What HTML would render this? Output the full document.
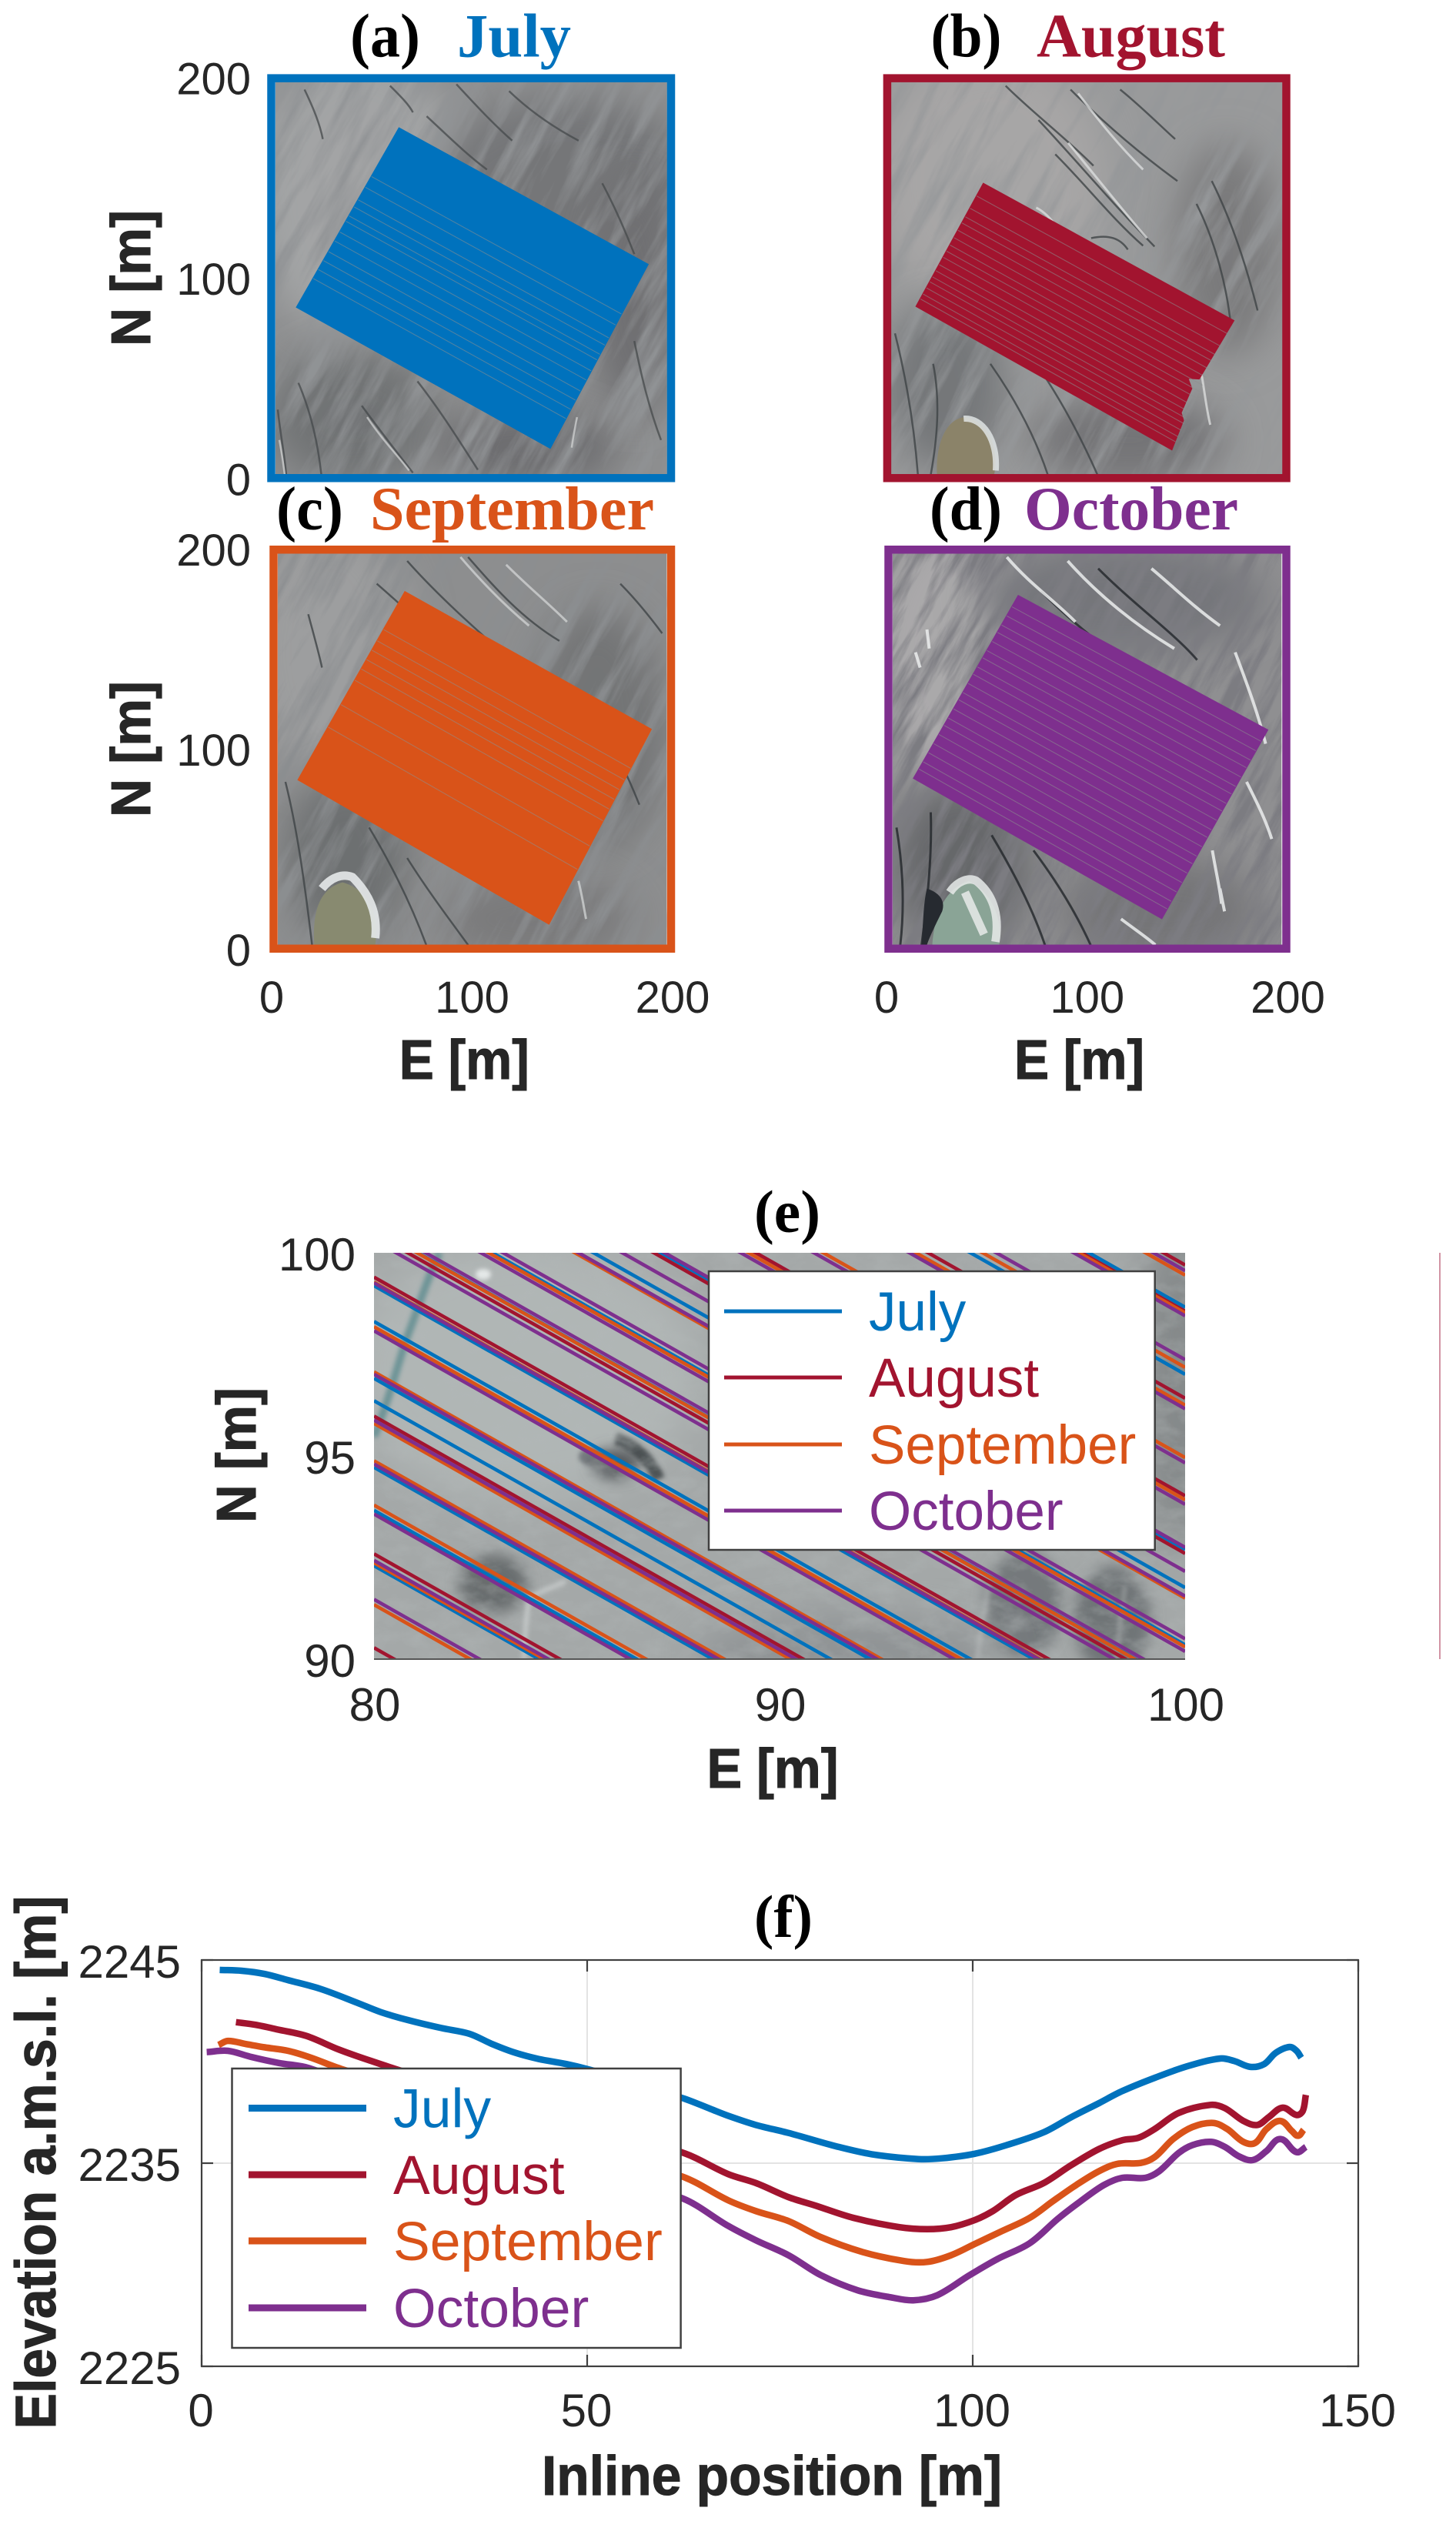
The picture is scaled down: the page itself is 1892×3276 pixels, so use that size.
<!DOCTYPE html>
<html lang="en">
<head>
<meta charset="utf-8">
<title>Survey tracks and elevation profiles</title>
<style>
html,body{margin:0;padding:0;background:#fff;}
svg{display:block;}
text{font-family:"Liberation Sans",Arial,sans-serif;fill:#262626;}
.ttl{font-family:"Liberation Serif","Times New Roman",serif;font-weight:700;}
.heavy{stroke:#262626;stroke-width:1.1px;}
</style>
</head>
<body>
<svg id="fig" xmlns="http://www.w3.org/2000/svg" width="1892" height="3276" viewBox="0 0 1892 3276">
<defs>
<filter id="grainA" x="0" y="0" width="100%" height="100%"><feTurbulence type="fractalNoise" baseFrequency="0.006 0.05" numOctaves="5" seed="3"/><feColorMatrix values="0 0 0 0 .28 0 0 0 0 .29 0 0 0 0 .30 2.4 0 0 0 -0.95"/></filter>
<filter id="grainB" x="0" y="0" width="100%" height="100%"><feTurbulence type="fractalNoise" baseFrequency="0.006 0.05" numOctaves="5" seed="11"/><feColorMatrix values="0 0 0 0 .30 0 0 0 0 .31 0 0 0 0 .32 2.2 0 0 0 -0.95"/></filter>
<filter id="grainC" x="0" y="0" width="100%" height="100%"><feTurbulence type="fractalNoise" baseFrequency="0.006 0.05" numOctaves="5" seed="23"/><feColorMatrix values="0 0 0 0 .26 0 0 0 0 .27 0 0 0 0 .28 2.6 0 0 0 -1.0"/></filter>
<filter id="grainD" x="0" y="0" width="100%" height="100%"><feTurbulence type="fractalNoise" baseFrequency="0.008 0.06" numOctaves="5" seed="31"/><feColorMatrix values="0 0 0 0 .20 0 0 0 0 .20 0 0 0 0 .22 3 0 0 0 -1.15"/></filter>
<filter id="grainE" x="0" y="0" width="100%" height="100%"><feTurbulence type="fractalNoise" baseFrequency="0.03 0.05" numOctaves="4" seed="7"/><feColorMatrix values="0 0 0 0 .45 0 0 0 0 .48 0 0 0 0 .48 2 0 0 0 -0.8"/></filter>
<filter id="soft" x="-50%" y="-50%" width="200%" height="200%"><feGaussianBlur stdDeviation="26"/></filter>
<filter id="soft2" x="-50%" y="-50%" width="200%" height="200%"><feGaussianBlur stdDeviation="9"/></filter>
<filter id="soft3" x="-50%" y="-50%" width="200%" height="200%"><feGaussianBlur stdDeviation="3"/></filter>
<clipPath id="clipA"><rect x="0" y="0" width="513" height="515"/></clipPath>
<clipPath id="clipB"><rect x="0" y="0" width="513" height="515"/></clipPath>
<clipPath id="clipC"><rect x="0" y="0" width="511" height="514"/></clipPath>
<clipPath id="clipD"><rect x="0" y="0" width="511" height="514"/></clipPath>
<clipPath id="clipE"><rect x="486" y="1628" width="1054" height="528"/></clipPath>
</defs>

<!-- panel (a) photo -->
<g transform="translate(358,106.5) scale(.992,.99)" clip-path="url(#clipA)">
<rect width="513" height="515" fill="#8e8f90"/>
<ellipse cx="110" cy="150" rx="140" ry="190" fill="#a3a4a5" filter="url(#soft)"/>
<ellipse cx="380" cy="130" rx="170" ry="110" fill="#757678" filter="url(#soft)"/>
<ellipse cx="470" cy="280" rx="60" ry="160" fill="#6f7072" filter="url(#soft)"/>
<ellipse cx="100" cy="440" rx="110" ry="90" fill="#717375" filter="url(#soft)"/>
<ellipse cx="330" cy="480" rx="120" ry="50" fill="#6c6c6e" filter="url(#soft)"/>
<g transform="rotate(-62 256 256)"><rect x="-260" y="-260" width="1030" height="1030" filter="url(#grainA)"/></g>
<g fill="none" stroke="#45494b" stroke-width="2.5" opacity=".75">
<path d="M198,45 C225,70 250,95 277,115"/><path d="M237,3 C262,30 285,55 310,77"/><path d="M306,12 C335,40 365,60 397,77"/><path d="M428,133 C445,165 458,195 470,226"/><path d="M113,425 C135,455 158,485 180,513"/><path d="M186,393 C215,430 240,470 265,509"/><path d="M3,430 C6,460 12,490 14,515"/><path d="M38,10 C50,35 58,55 62,75"/><path d="M150,5 C165,20 175,30 180,40"/><path d="M30,395 C45,430 55,470 60,515"/><path d="M470,340 C480,390 490,430 505,470"/>
</g>
<g fill="none" stroke="#d5d7d7" stroke-width="2.5" opacity=".7"><path d="M5,470 C8,485 10,500 12,515"/><path d="M395,440 C392,455 390,465 388,480"/><path d="M120,440 C140,470 160,490 175,510"/></g>
</g>

<!-- panel (b) photo -->
<g transform="translate(1158,106.5) scale(.992,.99)" clip-path="url(#clipB)">
<rect width="513" height="515" fill="#999a9b"/>
<ellipse cx="130" cy="130" rx="150" ry="170" fill="#a7a6a6" filter="url(#soft)"/>
<ellipse cx="440" cy="220" rx="70" ry="140" fill="#7a7a7c" filter="url(#soft)"/>
<ellipse cx="70" cy="400" rx="80" ry="110" fill="#757779" filter="url(#soft)"/>
<ellipse cx="310" cy="470" rx="130" ry="60" fill="#757577" filter="url(#soft)"/>
<g transform="rotate(-62 256 256)"><rect x="-260" y="-260" width="1030" height="1030" filter="url(#grainB)"/></g>
<g fill="none" stroke="#3f4446" stroke-width="2.5" opacity=".8">
<path d="M193,50 C240,100 290,160 345,216"/><path d="M215,95 C255,135 290,180 330,215"/><path d="M150,5 C185,40 225,70 265,110"/><path d="M235,10 C275,50 320,90 375,130"/><path d="M300,10 C325,30 350,55 372,75"/><path d="M420,130 C445,180 465,240 480,300"/><path d="M400,160 C425,210 440,270 445,320"/><path d="M130,370 C165,420 190,470 205,515"/><path d="M190,370 C225,420 250,470 270,515"/><path d="M5,330 C20,390 30,450 35,515"/><path d="M55,370 C65,420 60,470 52,515"/><path d="M262,205 C285,200 300,205 310,220"/>
</g>
<g fill="none" stroke="#e0e2e2" stroke-width="3" opacity=".75"><path d="M232,80 C265,120 300,165 335,205"/><path d="M245,15 C275,55 300,85 330,115"/><path d="M405,375 C410,400 412,425 418,450"/><path d="M190,165 C200,170 210,180 216,190"/></g>
<path d="M60,515 C58,470 75,440 98,440 C135,450 140,490 135,515 Z" fill="#8b8369"/>
<path d="M95,442 C120,440 140,470 137,510" fill="none" stroke="#dfe4e4" stroke-width="8" opacity=".85"/>
</g>

<!-- panel (c) photo -->
<g transform="translate(361,719) scale(.989,.99)" clip-path="url(#clipC)">
<rect width="511" height="514" fill="#8d8e8f"/>
<ellipse cx="70" cy="130" rx="110" ry="170" fill="#9d9e9f" filter="url(#soft)"/>
<ellipse cx="420" cy="230" rx="90" ry="160" fill="#737476" filter="url(#soft)"/>
<ellipse cx="90" cy="400" rx="80" ry="110" fill="#6d6f71" filter="url(#soft)"/>
<ellipse cx="340" cy="480" rx="130" ry="60" fill="#7a7a7c" filter="url(#soft)"/>
<g transform="rotate(-62 256 256)"><rect x="-260" y="-260" width="1030" height="1030" filter="url(#grainC)"/></g>
<g fill="none" stroke="#3f4446" stroke-width="2.5" opacity=".8">
<path d="M170,10 C210,55 255,95 300,135"/><path d="M250,5 C285,45 320,85 370,115"/><path d="M130,40 C165,70 195,100 225,120"/><path d="M450,40 C470,60 490,85 505,105"/><path d="M400,190 C430,230 455,280 475,330"/><path d="M120,360 C150,410 175,460 195,514"/><path d="M170,400 C195,440 225,480 250,514"/><path d="M10,300 C25,360 35,430 45,514"/><path d="M40,80 C48,110 55,135 58,150"/>
</g>
<g fill="none" stroke="#d9dbdb" stroke-width="3" opacity=".7"><path d="M240,5 C270,40 300,70 330,95"/><path d="M300,15 C330,45 355,65 380,90"/><path d="M395,430 C400,450 402,465 405,480"/></g>
<path d="M48,514 C45,470 55,440 85,432 C115,440 135,470 128,514 Z" fill="#888a70"/>
<path d="M58,440 C70,425 85,420 98,425 C118,445 132,470 128,505" fill="none" stroke="#e5e9ea" stroke-width="11" opacity=".9"/>
</g>

<!-- panel (d) photo -->
<g transform="translate(1160,719) scale(.989,.99)" clip-path="url(#clipD)">
<rect width="511" height="514" fill="#8f8f91"/>
<ellipse cx="80" cy="130" rx="110" ry="170" fill="#aaa9aa" filter="url(#soft)"/>
<ellipse cx="300" cy="60" rx="190" ry="70" fill="#75767a" filter="url(#soft)"/>
<ellipse cx="90" cy="410" rx="90" ry="110" fill="#66676a" filter="url(#soft)"/>
<ellipse cx="350" cy="470" rx="130" ry="70" fill="#757577" filter="url(#soft)"/>
<g transform="rotate(-62 256 256)"><rect x="-260" y="-260" width="1030" height="1030" filter="url(#grainD)"/></g>
<g fill="none" stroke="#22262a" stroke-width="3" opacity=".8">
<path d="M195,50 C240,95 285,130 330,155"/><path d="M270,20 C320,70 370,105 400,140"/><path d="M130,370 C160,420 185,470 200,514"/><path d="M185,390 C215,430 240,470 260,514"/><path d="M50,340 C52,400 45,460 38,514"/><path d="M5,360 C15,420 15,470 10,514"/>
</g>
<g fill="none" stroke="#eceeee" stroke-width="4" opacity=".85">
<path d="M150,5 C180,40 210,60 240,90"/><path d="M230,10 C270,55 320,95 370,125"/><path d="M340,20 C370,45 395,70 430,95"/><path d="M450,130 C465,170 480,210 490,250"/><path d="M420,390 C425,420 430,440 432,460"/><path d="M465,300 C480,330 490,350 498,375"/><path d="M30,130 L36,150"/><path d="M45,100 L48,125"/><path d="M300,480 C320,495 335,505 345,514"/><path d="M430,440 L436,470"/>
</g>
<path d="M52,514 C55,470 70,440 100,430 C130,445 145,480 140,514 Z" fill="#8aa496"/>
<path d="M75,445 C85,430 100,425 110,430 C135,450 140,480 135,510 M95,445 L120,500" fill="none" stroke="#e8ebea" stroke-width="11" opacity=".85"/>
<path d="M45,440 C60,445 70,455 65,470 C55,490 48,505 45,514 L38,514 C40,490 40,460 45,440 Z" fill="#262a30"/>
</g>

<!-- panel (e) photo -->
<g clip-path="url(#clipE)">
<rect x="486" y="1628" width="1054" height="528" fill="#a4a8a8"/>
<ellipse cx="680" cy="1780" rx="230" ry="170" fill="#b0b6b5" filter="url(#soft)"/>
<ellipse cx="1330" cy="2085" rx="50" ry="70" fill="#74797b" filter="url(#soft2)"/>
<ellipse cx="1445" cy="2105" rx="50" ry="70" fill="#707577" filter="url(#soft2)"/>
<ellipse cx="1100" cy="2150" rx="200" ry="50" fill="#8f9394" filter="url(#soft)"/>
<ellipse cx="1530" cy="1800" rx="50" ry="220" fill="#848889" filter="url(#soft)"/>
<ellipse cx="641" cy="2058" rx="45" ry="38" fill="#5f6365" filter="url(#soft2)" opacity=".85"/>
<ellipse cx="770" cy="1893" rx="18" ry="12" fill="#6b7074" filter="url(#soft3)" opacity=".8"/>
<ellipse cx="800" cy="1902" rx="32" ry="20" fill="#55595c" filter="url(#soft2)"/>
<path d="M800,1870 C820,1875 845,1895 856,1922" fill="none" stroke="#33373a" stroke-width="16" opacity=".75" filter="url(#soft3)"/>
<rect x="486" y="1628" width="1054" height="528" filter="url(#grainE)" opacity=".4"/>
<path d="M571,1628 C552,1670 540,1710 528,1740 C515,1780 505,1820 486,1867" fill="none" stroke="#58898d" stroke-width="10" opacity=".75" filter="url(#soft3)"/>
<ellipse cx="628" cy="1656" rx="10" ry="7" fill="#e4e8e8" filter="url(#soft3)"/>
<path d="M681,2156 C682,2120 685,2090 688,2075 L735,2055" fill="none" stroke="#d8dcdc" stroke-width="6" opacity=".6" filter="url(#soft3)"/>
<path d="M1270,2156 C1275,2110 1280,2090 1285,2060 M1450,2156 C1455,2120 1458,2090 1462,2060" fill="none" stroke="#d3d6d6" stroke-width="6" opacity=".3" filter="url(#soft3)"/>
</g>
<g id="plots"></g>
</svg>

<script>
/* ---------- data ---------- */
const colors = { july: "#0072BD", august: "#A2142F", september: "#D95319", october: "#7E2F8E" };
const monthNames = ["July", "August", "September", "October"];

/* survey footprints, [E, N] metres */
const julyCorners = [[64.7,173.5],[186.5,106.7],[138.7,16.8],[14.6,85.8]];
const augustCorners = [[49.3,146.3],[172,79.1],[155.1,50.7],[149.5,51],[151.4,45.9],[146.2,34],[147.3,30.3],[141.7,16],[16.4,86.2]];
const septemberCorners = [[66.8,177.2],[188,109.7],[137.7,14.2],[14.3,85]];
const octoberCorners = [[66,175.3],[188.6,109.4],[136.6,16.9],[14.6,85.7]];

/* visible gaps between tracks, fraction across the footprint */
const julyGaps = [.27,.33,.4,.44,.49,.52,.58,.63,.69,.74,.79,.84];
const augustGaps = [.1,.2,.27,.32,.38,.44,.5,.55,.6,.66,.71,.76,.8,.85,.9,.94];
const septemberGaps = [.2,.26,.31,.36,.41,.47,.6,.72];
const octoberGaps = [.06,.11,.16,.2,.25,.3,.34,.39,.43,.48,.53,.57,.62,.67,.71,.76,.81,.86,.91,.95];

const mapTicks = [0, 100, 200];

/* panel e: track lines, N at E = 80 m */
const trackSlope = -0.565;
const julyTracks = [92.30,93.66,94.72,96.36,96.91,98.31,99.19,100.61,101.65,103.06,104.0,108.31,109.96];
const augustTracks = [90.28,92.59,95.98,99.4,100.47,102.82,103.9,105.32,107.72,109.86,111.0];
const septemberTracks = [91.34,92.37,93.79,94.88,95.80,97.07,98.18,99.28,100.6,101.6,102.8,105.22,106.26,107.55,108.48,109.82,110.75];
const octoberTracks = [91.47,92.43,93.57,94.80,95.88,97.01,98.08,99.26,100.31,100.72,101.49,101.8,102.85,103.46,104.05,105.11,106.13,107.46,108.67,109.75,110.86];
const zoomEastTicks = [80, 90, 100];
const zoomNorthTicks = [90, 95, 100];

/* panel f: elevation profiles */
const profileTicksX = [0, 50, 100, 150];
const profileTicksY = [2225, 2235, 2245];
const julyX = [2.35,5.2,8.2,11.2,15.4,20.2,23.2,26.8,31.1,34.7,37.7,40.7,43.7,47.3,50.9,62.4,66,68.3,71.9,76.1,82.1,86.9,93,96,100.2,104.4,109.2,112.8,116.4,119.4,123.6,127.9,132.1,133.9,136,137.8,139.3,141.1,142,142.6];
const julyY = [2244.51,2244.47,2244.31,2244.01,2243.58,2242.89,2242.44,2242.04,2241.65,2241.37,2240.86,2240.43,2240.13,2239.88,2239.54,2238.2,2237.67,2237.33,2236.88,2236.49,2235.85,2235.44,2235.2,2235.24,2235.46,2235.89,2236.52,2237.27,2237.96,2238.55,2239.2,2239.78,2240.15,2240.03,2239.74,2239.88,2240.43,2240.72,2240.53,2240.19];
const augustX = [4.45,7,10,13.6,17.8,22,26.8,62.2,68.3,71.9,76.1,79.7,84.5,90.5,94.1,97.2,100.2,102.6,105.6,109.2,112.8,116.4,119.4,121.5,123.6,126.7,130.9,132.7,135.1,136.9,138.4,140.2,142,142.8,143.2];
const augustY = [2241.94,2241.81,2241.57,2241.26,2240.59,2240.03,2239.44,2235.54,2234.46,2234.02,2233.33,2232.9,2232.31,2231.85,2231.75,2231.85,2232.19,2232.64,2233.43,2234.02,2234.91,2235.7,2236.13,2236.25,2236.68,2237.47,2237.87,2237.71,2237.08,2236.88,2237.27,2237.73,2237.37,2237.57,2238.36];
const septemberX = [2.2,3.4,5.8,8.2,11.2,14.2,18.1,62.2,68.3,71.9,76.1,80.3,85.7,91.1,94.1,97.2,100.2,103.8,107.4,110.4,113.4,116.4,118.8,121.8,123.6,126,128.5,131.2,133,135.1,136.6,138.1,139.9,141.4,142.2,142.9];
const septemberY = [2240.82,2241.02,2240.86,2240.7,2240.53,2240.19,2239.64,2234.36,2233.17,2232.64,2232.15,2231.36,2230.63,2230.18,2230.14,2230.47,2231.01,2231.66,2232.31,2233.13,2233.92,2234.61,2234.97,2235.01,2235.3,2236.19,2236.78,2236.98,2236.68,2236.05,2235.99,2236.68,2237.08,2236.58,2236.35,2236.64];
const octoberX = [.66,3.4,6.4,10,13.9,62.2,68.3,71.9,76.1,80.3,85.1,89.3,92.3,95.4,99.6,103.2,107.4,111,114,117,119.4,122.4,124.2,126.7,128.5,130.9,132.7,134.5,136.3,138.1,139.9,142,143.2];
const octoberY = [2240.47,2240.53,2240.23,2239.93,2239.68,2233.29,2231.91,2231.2,2230.47,2229.49,2228.74,2228.4,2228.25,2228.5,2229.49,2230.28,2231.06,2232.25,2233.13,2233.92,2234.28,2234.28,2234.61,2235.5,2235.89,2236.05,2235.8,2235.34,2235.15,2235.6,2236.19,2235.54,2235.8];

/* ---------- helpers ---------- */
const NS = "http://www.w3.org/2000/svg";
const root = document.getElementById("plots");
function make(tag, attrs, parent) {
  const el = document.createElementNS(NS, tag);
  for (const k in attrs) el.setAttribute(k, attrs[k]);
  (parent || root).appendChild(el);
  return el;
}
function label(str, x, y, size, opts, parent) {
  const o = opts || {};
  const el = make("text", { x: x, y: y, "font-size": size, "text-anchor": o.anchor || "middle" }, parent);
  if (o.bold) { el.setAttribute("font-weight", "700"); el.setAttribute("class", "heavy"); }
  if (o.cls) el.setAttribute("class", o.cls);
  if (o.fill) el.style.fill = o.fill;
  if (o.len) { el.setAttribute("textLength", o.len); el.setAttribute("lengthAdjust", "spacingAndGlyphs"); }
  if (o.rot) el.setAttribute("transform", "rotate(-90 " + x + " " + y + ")");
  el.textContent = str;
  return el;
}
function lerp(a, b, t) { return [a[0] + (b[0] - a[0]) * t, a[1] + (b[1] - a[1]) * t]; }
/* smooth curve through mapped points; tangents scale with segment length so long gaps cannot overshoot */
function tangent(a, b) {
  const dx = b[0] - a[0], dy = b[1] - a[1];
  const len = Math.hypot(dx, dy) || 1;
  return [dx / len, dy / len];
}
function curve(pts) {
  let d = "M" + pts[0][0].toFixed(1) + " " + pts[0][1].toFixed(1);
  for (let i = 0; i < pts.length - 1; i++) {
    const p0 = pts[Math.max(i - 1, 0)], p1 = pts[i], p2 = pts[i + 1], p3 = pts[Math.min(i + 2, pts.length - 1)];
    const seg = Math.hypot(p2[0] - p1[0], p2[1] - p1[1]) / 3;
    const t1 = tangent(p0, p2), t2 = tangent(p1, p3);
    d += "C" + (p1[0] + t1[0] * seg).toFixed(1) + " " + (p1[1] + t1[1] * seg).toFixed(1) + " " + (p2[0] - t2[0] * seg).toFixed(1) + " " + (p2[1] - t2[1] * seg).toFixed(1) + " " + p2[0].toFixed(1) + " " + p2[1].toFixed(1);
  }
  return d;
}

/* ---------- map panels a-d ---------- */
const maps = [
  { key: "july", box: [347,96.4,877.5,626.5], corners: julyCorners, edge: [0,1,2,3], gaps: julyGaps, yTicks: true, xTicks: false },
  { key: "august", box: [1147.4,96.4,1677,626.5], corners: augustCorners, edge: [0,1,7,8], gaps: augustGaps, yTicks: false, xTicks: false },
  { key: "september", box: [350,709,877.5,1238], corners: septemberCorners, edge: [0,1,2,3], gaps: septemberGaps, yTicks: true, xTicks: true },
  { key: "october", box: [1149,709,1677,1238], corners: octoberCorners, edge: [0,1,2,3], gaps: octoberGaps, yTicks: false, xTicks: true }
];
maps.forEach(function (m) {
  const b = m.box;
  const sx = function (e) { return b[0] + (e / 200) * (b[2] - b[0]); };
  const sy = function (n) { return b[3] - (n / 200) * (b[3] - b[1]); };
  const tickX = function (e) { return b[0] + 3 + (e / 200) * (b[2] - b[0] - 6.5); };
  const tickY = function (n) { return b[3] - 4 - (n / 200) * (b[3] - b[1] - 9); };
  const col = colors[m.key];
  const pts = m.corners.map(function (c) { return sx(c[0]).toFixed(1) + "," + sy(c[1]).toFixed(1); }).join(" ");
  const poly = make("polygon", { points: pts, fill: col, stroke: col, "stroke-width": 2 });
  
  
  const A = m.corners[m.edge[0]], B = m.corners[m.edge[1]], C = m.corners[m.edge[2]], D = m.corners[m.edge[3]];
  m.gaps.forEach(function (t) {
    const p = lerp(A, D, t), q = lerp(B, C, t);
    const ln = make("line", { x1: sx(p[0]), y1: sy(p[1]), x2: sx(q[0]), y2: sy(q[1]), stroke: "#8d9090", "stroke-width": 1.1, opacity: .55 });
    
    
  });
  const frame = make("rect", { x: b[0] + 5.5, y: b[1] + 5.25, width: b[2] - b[0] - 11, height: b[3] - b[1] - 10.5, fill: "none", stroke: col, "stroke-width": 10.5 });
  
  
  if (m.yTicks) {
    mapTicks.forEach(function (v) {
      const t = label(String(v), 326, tickY(v) + 21, 58, { anchor: "end" });
      
      
    });
    const yl = label("N [m]", 195, (b[1] + b[3]) / 2, 72, { bold: true, rot: true, len: 177 });
    
    
  }
  if (m.xTicks) {
    mapTicks.forEach(function (v) {
      const t = label(String(v), tickX(v), 1316, 58);
      
      
    });
    const xl = label("E [m]", (b[0] + b[2]) / 2 - 10.5, 1402, 72, { bold: true, len: 169 });
    
    
  }
});
/* map titles */
const titleParts = [
  ["(a)", 455, 73.5, 91, "#000", "panel-a-letter"], ["July", 594, 73.5, 148, colors.july, "panel-a-title"],
  ["(b)", 1209.5, 73.5, 92, "#000", "panel-b-letter"], ["August", 1347, 73.5, 245, colors.august, "panel-b-title"],
  ["(c)", 359, 688, 87, "#000", "panel-c-letter"], ["September", 481, 688, 369, colors.september, "panel-c-title"],
  ["(d)", 1208, 688, 94, "#000", "panel-d-letter"], ["October", 1331, 688, 278, colors.october, "panel-d-title"]
];
titleParts.forEach(function (p) {
  const t = label(p[0], p[1], p[2], 80, { anchor: "start", cls: "ttl", fill: p[4], len: p[3] });
  
  
});

/* ---------- panel e ---------- */
const ex = function (e) { return 486 + (e - 80) / 20 * 1054; };
const ey = function (n) { return 2156 - (n - 90) / 10 * 528; };
const clipped = make("g", { "clip-path": "url(#clipE)" });


[["july", julyTracks], ["august", augustTracks], ["september", septemberTracks], ["october", octoberTracks]].forEach(function (s) {
  s[1].forEach(function (n0) {
    const ln = make("line", { x1: ex(80), y1: ey(n0), x2: ex(100), y2: ey(n0 + trackSlope * 20), stroke: colors[s[0]], "stroke-width": 4.6 }, clipped);
    
    
  });
});
const eAxis = make("line", { x1: 486, y1: 2156, x2: 1540, y2: 2156, stroke: "#555", "stroke-width": 2 });


const sliver = make("line", { x1: 1871, y1: 1628, x2: 1871, y2: 2156, stroke: "#c77a8e", "stroke-width": 2, opacity: .8 });


zoomEastTicks.forEach(function (v) {
  const t = label(String(v), ex(v) + 1, 2236, 60);
  
  
});
zoomNorthTicks.forEach(function (v) {
  const t = label(String(v), 462, ey(v) + 23, 60, { anchor: "end" });
  
  
});
const eTitle = label("(e)", 1023, 1601, 78, { cls: "ttl", fill: "#000", len: 86 });


const eXl = label("E [m]", 1004, 2323, 72, { bold: true, len: 171 });


const eYl = label("N [m]", 332, 1891, 72, { bold: true, rot: true, len: 176 });



function legend(prefix, box, lineX, lineY, textX, size, width) {
  const r = make("rect", { x: box[0], y: box[1], width: box[2] - box[0], height: box[3] - box[1], fill: "#fff", stroke: "#404040", "stroke-width": 2.5 });
  
  
  monthNames.forEach(function (name, i) {
    const c = colors[name.toLowerCase()];
    const ln = make("line", { x1: lineX[0], y1: lineY[i], x2: lineX[1], y2: lineY[i], stroke: c, "stroke-width": width });
    
    
    const t = label(name, textX, lineY[i] + 25, size, { anchor: "start", fill: c });
    
    
  });
}
legend("zoom", [921,1652,1500.7,2014], [941,1094], [1704,1790,1877,1963], 1129, 71, 5);

/* ---------- panel f ---------- */
const fx = function (v) { return 262 + v / 150 * 1503; };
const fy = function (v) { return 3075 - (v - 2225) / 20 * 528; };
profileTicksX.slice(1, 3).forEach(function (v) {
  const g = make("line", { x1: fx(v), y1: 2547, x2: fx(v), y2: 3075, stroke: "#e3e3e3", "stroke-width": 2 });
  
  
});
const gy = make("line", { x1: 262, y1: fy(2235), x2: 1765, y2: fy(2235), stroke: "#e3e3e3", "stroke-width": 2 });


[["july", julyX, julyY], ["august", augustX, augustY], ["september", septemberX, septemberY], ["october", octoberX, octoberY]].forEach(function (s) {
  const xs = s[1], ys = s[2];
  const mapped = xs.map(function (v, i) { return [fx(v), fy(ys[i])]; });
  const p = make("path", { d: curve(mapped), fill: "none", stroke: colors[s[0]], "stroke-width": 8.5, "stroke-linejoin": "round" });
  
  
});
const fBox = make("rect", { x: 262, y: 2547, width: 1503, height: 528, fill: "none", stroke: "#404040", "stroke-width": 2.2 });


profileTicksX.forEach(function (v) {
  const t1 = make("line", { x1: fx(v), y1: 2547, x2: fx(v), y2: 2562, stroke: "#404040", "stroke-width": 2.2 });
  
  
  const t2 = make("line", { x1: fx(v), y1: 3075, x2: fx(v), y2: 3060, stroke: "#404040", "stroke-width": 2.2 });
  
  
  const t = label(String(v), fx(v) - 1, 3153, 60);
  
  
});
profileTicksY.forEach(function (v) {
  const t1 = make("line", { x1: 262, y1: fy(v), x2: 277, y2: fy(v), stroke: "#404040", "stroke-width": 2.2 });
  
  
  const t2 = make("line", { x1: 1765, y1: fy(v), x2: 1750, y2: fy(v), stroke: "#404040", "stroke-width": 2.2 });
  
  
  const t = label(String(v), 235, fy(v) + 23, 60, { anchor: "end" });
  
  
});
legend("profile", [301.5,2688,884.6,3051], [323,476], [2739.5,2826,2912,2999], 511, 71.5, 9);
const fTitle = label("(f)", 1018, 2517, 78, { cls: "ttl", fill: "#000", len: 76 });


const fXl = label("Inline position [m]", 1003, 3242, 72, { bold: true, len: 598 });


const fYl = label("Elevation a.m.s.l. [m]", 72, 2810, 74, { bold: true, rot: true, len: 693 });


</script>
</body>
</html>
